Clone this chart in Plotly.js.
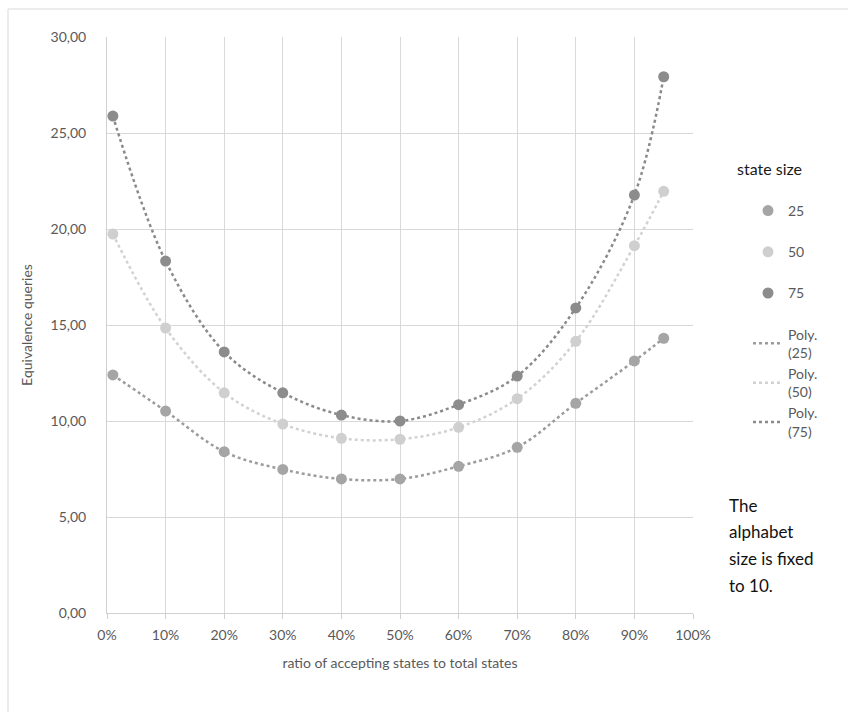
<!DOCTYPE html>
<html>
<head>
<meta charset="utf-8">
<script src="https://cdn.plot.ly/plotly-3.0.1.min.js"></script>
<style>html,body{margin:0;padding:0;background:#fff;}#chart{width:848px;height:712px;}</style>
</head>
<body>
<div id="chart"></div>
<script>
// ratio of accepting states to total states
const ratios = [0.01, 0.10, 0.20, 0.30, 0.40, 0.50, 0.60, 0.70, 0.80, 0.90, 0.95];
// Equivalence queries per state size
const size25 = [12.40, 10.52, 8.40, 7.48, 6.98, 6.98, 7.64, 8.63, 10.92, 13.13, 14.31];
const size50 = [19.74, 14.84, 11.47, 9.84, 9.10, 9.05, 9.67, 11.16, 14.15, 19.13, 21.96];
const size75 = [25.88, 18.33, 13.60, 11.47, 10.31, 10.00, 10.85, 12.34, 15.89, 21.77, 27.93];
const seriesNames = ["25", "50", "75"];
const trendNames = ["Poly.<br>(25)", "Poly.<br>(50)", "Poly.<br>(75)"];
const legendTitle = "state size";
const yTicks = [0, 5, 10, 15, 20, 25, 30];
const xTicks = [0, 0.1, 0.2, 0.3, 0.4, 0.5, 0.6, 0.7, 0.8, 0.9, 1.0];
const noteLines = ["The", "alphabet", "size is fixed", "to 10."];

const markerColors = ["#a5a5a5", "#cfcfcf", "#8c8c8c"];
const lineColors = ["#9c9c9c", "#d2d2d2", "#8a8a8a"];
const allY = [size25, size50, size75];

const lineTraces = [];
const markerTraces = [];
allY.forEach((ys, i) => {
  markerTraces.push({
    x: ratios, y: ys, type: "scatter", mode: "markers", name: seriesNames[i],
    marker: {color: markerColors[i], size: 11},
    legendgroup: "g" + i, legendrank: i + 1, cliponaxis: false
  });
  lineTraces.push({
    x: ratios, y: ys, type: "scatter", mode: "lines", name: trendNames[i],
    line: {color: lineColors[i], width: 2.5, dash: "dot", shape: "spline", smoothing: 1.0},
    legendgroup: "poly", legendrank: 10 + i, cliponaxis: false
  });
});
const ordered = lineTraces.concat(markerTraces);

const px = v => (v - 107) / 586;
const py = v => (613 - v) / 576;
const fontFam = "Lato, 'Open Sans', sans-serif";

const annotations = noteLines.map((t, i) => ({
  xref: "paper", yref: "paper", x: px(727), y: py(505 + i * 26.7), xanchor: "left", yanchor: "middle",
  text: t, showarrow: false, font: {size: 17, color: "#111111", family: fontFam}
}));
annotations.push({
  xref: "paper", yref: "paper", x: px(735), y: py(168), xanchor: "left", yanchor: "middle",
  text: legendTitle, showarrow: false, font: {size: 16, color: "#1a1a1a", family: fontFam}
});

const layout = {
  width: 848, height: 712,
  margin: {l: 107, r: 155, t: 37, b: 99},
  paper_bgcolor: "#ffffff", plot_bgcolor: "#ffffff",
  separators: ",.",
  font: {family: fontFam, color: "#595959", size: 14},
  xaxis: {
    range: [0, 1], tickvals: xTicks, tickformat: ".0%",
    showgrid: true, gridcolor: "#d9d9d9", gridwidth: 1,
    showline: true, linecolor: "#d0d0d0", linewidth: 1,
    ticks: "outside", ticklen: 5, tickcolor: "#d0d0d0", ticklabelstandoff: 4,
    zeroline: false, fixedrange: true,
    tickfont: {size: 14, color: "#595959"},
    title: {text: "ratio of accepting states to total states", font: {size: 14, color: "#595959"}, standoff: 16}
  },
  yaxis: {
    range: [0, 30], tickvals: yTicks, tickformat: ".2f",
    showgrid: true, gridcolor: "#d9d9d9", gridwidth: 1,
    showline: true, linecolor: "#d0d0d0", linewidth: 1,
    zeroline: false, fixedrange: true, ticks: "", ticklabelstandoff: 17,
    tickfont: {size: 14, color: "#595959"},
    title: {text: "Equivalence queries", font: {size: 14, color: "#595959"}, standoff: 14}
  },
  showlegend: true,
  legend: {
    x: px(748), y: py(195), xanchor: "left", yanchor: "top",
    traceorder: "grouped", tracegroupgap: 20,
    font: {size: 14, color: "#595959"},
    bgcolor: "rgba(0,0,0,0)", itemwidth: 30
  },
  annotations: annotations,
  shapes: [
    {type: "line", xref: "paper", yref: "paper", x0: px(8), x1: px(860), y0: py(9), y1: py(9), line: {color: "#d9d9d9", width: 1}},
    {type: "line", xref: "paper", yref: "paper", x0: px(8), x1: px(8), y0: py(9), y1: py(720), line: {color: "#d9d9d9", width: 1}}
  ]
};

Plotly.newPlot("chart", ordered, layout, {displayModeBar: false, staticPlot: true});
</script>
</body>
</html>
